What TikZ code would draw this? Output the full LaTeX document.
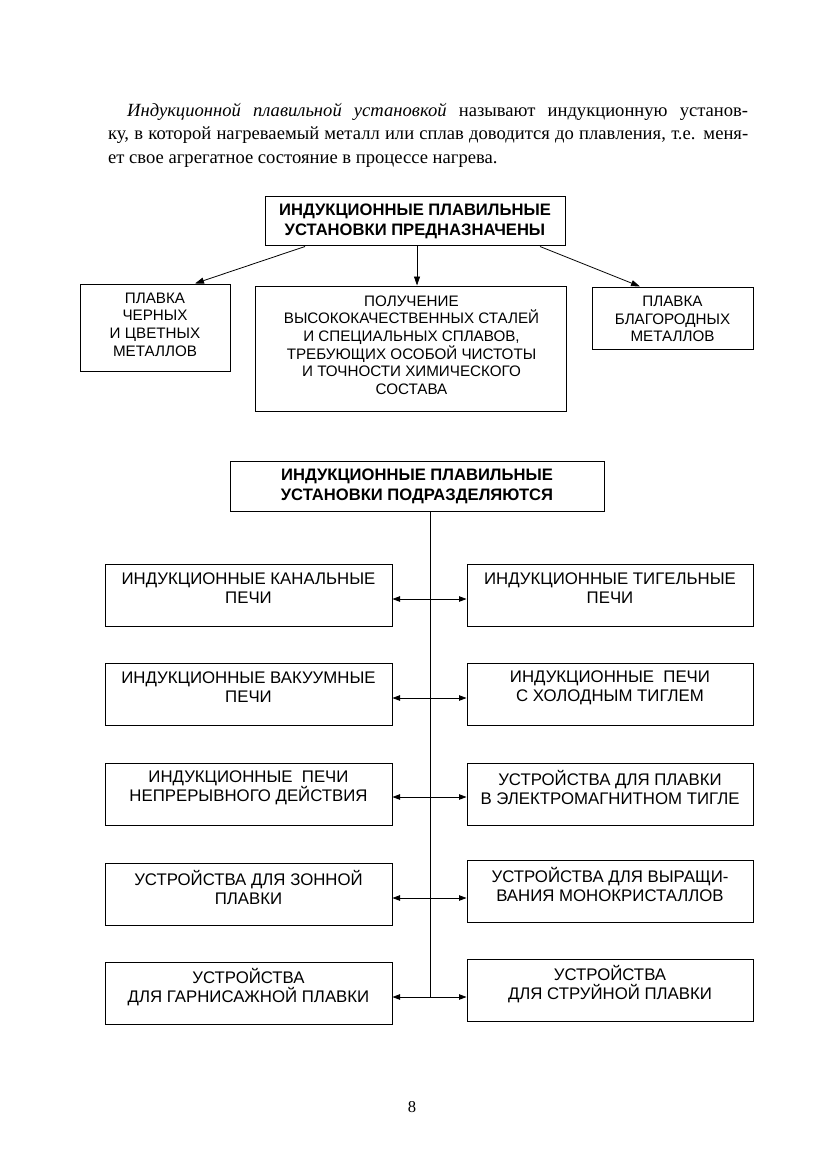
\documentclass[tikz,border=0pt]{standalone}
\usepackage{fontspec}
\setmainfont{Liberation Serif}
\newfontfamily\arialf{Liberation Sans}
\usetikzlibrary{arrows.meta}
\begin{document}
\begin{tikzpicture}[x=1pt,y=-1pt,
 box/.style={draw, line width=1pt, inner sep=0pt},
 btxt/.style={font=\arialf\fontsize{16.8}{19.1}\selectfont, align=center, inner sep=0pt},
 stxt/.style={font=\arialf\fontsize{15.2}{17.6}\selectfont, align=center, inner sep=0pt},
 htxt/.style={font=\arialf\bfseries\fontsize{16.6}{20}\selectfont, align=center},
 arr/.style={line width=0.8pt, -{Triangle[length=9pt,width=6pt]}},
 darr/.style={line width=0.8pt, {Triangle[length=7.5pt,width=5.5pt]}-{Triangle[length=7.5pt,width=5.5pt]}},
 lbox/.style={box, minimum width=287, minimum height=62},
 rbox/.style={box, minimum width=286, minimum height=62},
]
\useasboundingbox[fill=white] (0,0) rectangle (824,1166);

% paragraph
\node[anchor=north west, inner sep=0pt, align=left, font=\fontsize{18.6}{23.5}\selectfont] (par) at (108,103)
{\hspace*{19pt}\makebox[621pt][s]{\textit{Индукционной плавильной установкой} называют индукционную установ-}\\
\makebox[640pt][s]{ку, в которой нагреваемый металл или сплав доводится до плавления, т.е. меня-}\\
ет свое агрегатное состояние в процессе нагрева.};

% top diagram
\node[box, htxt, minimum width=300, minimum height=49] (H1) at (415,221.5)
 {ИНДУКЦИОННЫЕ ПЛАВИЛЬНЫЕ\\УСТАНОВКИ ПРЕДНАЗНАЧЕНЫ};
\node[box, minimum width=150, minimum height=87] (A) at (155,327.5) {};
\node[stxt] (At) at (155,324.5) {ПЛАВКА\\ЧЕРНЫХ\\И ЦВЕТНЫХ\\МЕТАЛЛОВ};
\node[box, minimum width=311, minimum height=125] (B) at (410.5,348.5) {};
\node[stxt] (Bt) at (411.5,345) {ПОЛУЧЕНИЕ\\ВЫСОКОКАЧЕСТВЕННЫХ СТАЛЕЙ\\И СПЕЦИАЛЬНЫХ СПЛАВОВ,\\ТРЕБУЮЩИХ ОСОБОЙ ЧИСТОТЫ\\И ТОЧНОСТИ ХИМИЧЕСКОГО\\СОСТАВА};
\node[box, minimum width=161, minimum height=62] (C) at (672.5,318) {};
\node[stxt] (Ct) at (672.5,319) {ПЛАВКА\\БЛАГОРОДНЫХ\\МЕТАЛЛОВ};

\draw[arr] ([xshift=-110pt]H1.south) -- ([xshift=40pt]A.north);
\draw[arr] ([xshift=2pt]H1.south) -- ([xshift=6.5pt]B.north);
\draw[arr] ([xshift=125pt]H1.south) -- ([xshift=-32.5pt]C.north);

% bottom diagram
\node[box, htxt, minimum width=374, minimum height=50] (H2) at (417,486)
 {ИНДУКЦИОННЫЕ ПЛАВИЛЬНЫЕ\\УСТАНОВКИ ПОДРАЗДЕЛЯЮТСЯ};
\coordinate (J) at (430,997);
\draw[line width=0.8pt] ([xshift=13pt]H2.south) -- (J);

\node[lbox] (L1) at (248.5,595) {};
\node[btxt] (L1t) at (248.5,588.5) {ИНДУКЦИОННЫЕ КАНАЛЬНЫЕ\\ПЕЧИ};
\node[rbox] (R1) at (610,595) {};
\node[btxt] (R1t) at (610,588.5) {ИНДУКЦИОННЫЕ ТИГЕЛЬНЫЕ\\ПЕЧИ};

\node[lbox] (L2) at (248.5,694) {};
\node[btxt] (L2t) at (248.5,687.5) {ИНДУКЦИОННЫЕ ВАКУУМНЫЕ\\ПЕЧИ};
\node[rbox] (R2) at (610,694) {};
\node[btxt] (R2t) at (610,687.5) {ИНДУКЦИОННЫЕ\ \ ПЕЧИ\\С ХОЛОДНЫМ ТИГЛЕМ};

\node[lbox] (L3) at (248.5,794) {};
\node[btxt] (L3t) at (248.5,787.5) {ИНДУКЦИОННЫЕ\ \ ПЕЧИ\\НЕПРЕРЫВНОГО ДЕЙСТВИЯ};
\node[rbox] (R3) at (610,794) {};
\node[btxt] (R3t) at (610,787.5) {УСТРОЙСТВА ДЛЯ ПЛАВКИ\\В ЭЛЕКТРОМАГНИТНОМ ТИГЛЕ};

\node[lbox] (L4) at (248.5,894) {};
\node[btxt] (L4t) at (248.5,887.5) {УСТРОЙСТВА ДЛЯ ЗОННОЙ\\ПЛАВКИ};
\node[rbox] (R4) at (610,891) {};
\node[btxt] (R4t) at (610,884.5) {УСТРОЙСТВА ДЛЯ ВЫРАЩИ-\\ВАНИЯ МОНОКРИСТАЛЛОВ};

\node[lbox] (L5) at (248.5,993.5) {};
\node[btxt] (L5t) at (248.5,987) {УСТРОЙСТВА\\ДЛЯ ГАРНИСАЖНОЙ ПЛАВКИ};
\node[rbox] (R5) at (610,990.5) {};
\node[btxt] (R5t) at (610,984) {УСТРОЙСТВА\\ДЛЯ СТРУЙНОЙ ПЛАВКИ};

\draw[darr] (L1.east |- 0,599) -- (R1.west |- 0,599);
\draw[darr] (L2.east |- 0,698) -- (R2.west |- 0,698);
\draw[darr] (L3.east |- 0,797) -- (R3.west |- 0,797);
\draw[darr] (L4.east |- 0,898) -- (R4.west |- 0,898);
\draw[darr] (L5.east |- 0,997) -- (R5.west |- 0,997);

\node[font=\fontsize{16.6}{19}\selectfont, inner sep=0pt] (pg) at (412,1107) {8};
\end{tikzpicture}
\end{document}
